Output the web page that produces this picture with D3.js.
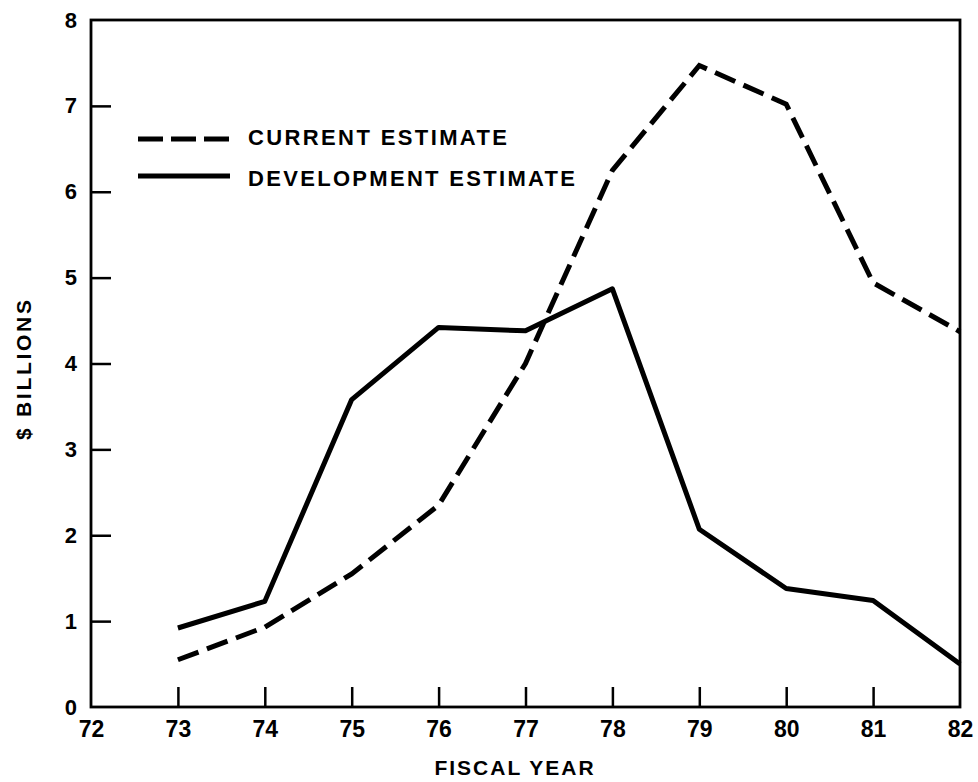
<!DOCTYPE html>
<html>
<head>
<meta charset="utf-8">
<script src="https://cdn.jsdelivr.net/npm/d3@7"></script>
<style>
  body { margin: 0; background: #fff; }
  svg { display: block; font-family: "Liberation Sans", Arial, sans-serif; font-weight: bold; }
</style>
</head>
<body>
<div id="chart"></div>
<script>
// fiscal years and the two estimates ($ billions)
var years = [73, 74, 75, 76, 77, 78, 79, 80, 81, 82];
var currentEstimate = [0.55, 0.93, 1.55, 2.35, 4.0, 6.25, 7.47, 7.02, 4.94, 4.37];
var developmentEstimate = [0.92, 1.23, 3.58, 4.42, 4.38, 4.87, 2.07, 1.38, 1.24, 0.5];
var xTicks = [72, 73, 74, 75, 76, 77, 78, 79, 80, 81, 82];
var yTicks = [0, 1, 2, 3, 4, 5, 6, 7, 8];
var seriesNames = ["CURRENT ESTIMATE", "DEVELOPMENT ESTIMATE"];

var width = 978, height = 782;

var svg = d3.select("#chart").append("svg")
  .attr("width", width)
  .attr("height", height);

var x = d3.scaleLinear().domain([72, 82]).range([91, 960]);
var y = d3.scaleLinear().domain([0, 8]).range([707, 20]);

// frame
svg.append("rect")
  .attr("x", x(72)).attr("y", y(8))
  .attr("width", x(82) - x(72)).attr("height", y(0) - y(8))
  .attr("fill", "none").attr("stroke", "#000").attr("stroke-width", 2.8);

// y axis, ticks pointing inward
var yAxis = svg.append("g")
  .attr("transform", "translate(" + x(72) + ",0)")
  .call(d3.axisLeft(y).tickValues(yTicks).tickFormat(d3.format("d"))
    .tickSizeInner(-20).tickSizeOuter(0).tickPadding(14));
yAxis.select(".domain").remove();
yAxis.selectAll(".tick line").attr("stroke-width", 2.5)
  .filter(function(d) { return d == 0 || d == 8; }).remove();
yAxis.selectAll(".tick text")
  .attr("font-size", 22).attr("font-weight", "bold")
  .attr("font-family", "Liberation Sans, Arial, sans-serif").attr("fill", "#000");

// x axis
var xAxis = svg.append("g")
  .attr("transform", "translate(0," + y(0) + ")")
  .call(d3.axisBottom(x).tickValues(xTicks).tickFormat(d3.format("d"))
    .tickSizeInner(-20).tickSizeOuter(0).tickPadding(14));
xAxis.select(".domain").remove();
xAxis.selectAll(".tick line").attr("stroke-width", 2.5)
  .filter(function(d) { return d == 72 || d == 82; }).remove();
xAxis.selectAll(".tick text")
  .attr("font-size", 23).attr("font-weight", "bold")
  .attr("font-family", "Liberation Sans, Arial, sans-serif").attr("fill", "#000");

// axis titles
svg.append("text")
  .attr("x", 515).attr("y", 775)
  .attr("text-anchor", "middle")
  .attr("font-size", 21)
  .attr("letter-spacing", 2)
  .text("FISCAL YEAR");

svg.append("text")
  .attr("transform", "translate(31,370) rotate(-90)")
  .attr("text-anchor", "middle")
  .attr("font-size", 21)
  .attr("textLength", 140).attr("lengthAdjust", "spacing")
  .text("$ BILLIONS");

// lines
var line = d3.line()
  .x(function(d) { return x(d[0]); })
  .y(function(d) { return y(d[1]); });

svg.append("path")
  .datum(years.map(function(yr, i) { return [yr, developmentEstimate[i]]; }))
  .attr("d", line)
  .attr("fill", "none").attr("stroke", "#000")
  .attr("stroke-width", 5).attr("stroke-linejoin", "round");

svg.append("path")
  .datum(years.map(function(yr, i) { return [yr, currentEstimate[i]]; }))
  .attr("d", line)
  .attr("fill", "none").attr("stroke", "#000")
  .attr("stroke-width", 5)
  .attr("stroke-dasharray", "22,9");

// legend
var legend = svg.append("g");
legend.append("line")
  .attr("x1", 138).attr("x2", 230).attr("y1", 139).attr("y2", 139)
  .attr("stroke", "#000").attr("stroke-width", 5).attr("stroke-dasharray", "25,8");
legend.append("line")
  .attr("x1", 138).attr("x2", 230).attr("y1", 176).attr("y2", 176)
  .attr("stroke", "#000").attr("stroke-width", 5);
legend.append("text")
  .attr("x", 248).attr("y", 145)
  .attr("font-size", 22)
  .attr("textLength", 259).attr("lengthAdjust", "spacing")
  .text(seriesNames[0]);
legend.append("text")
  .attr("x", 248).attr("y", 186)
  .attr("font-size", 22)
  .attr("textLength", 327).attr("lengthAdjust", "spacing")
  .text(seriesNames[1]);
</script>
</body>
</html>
